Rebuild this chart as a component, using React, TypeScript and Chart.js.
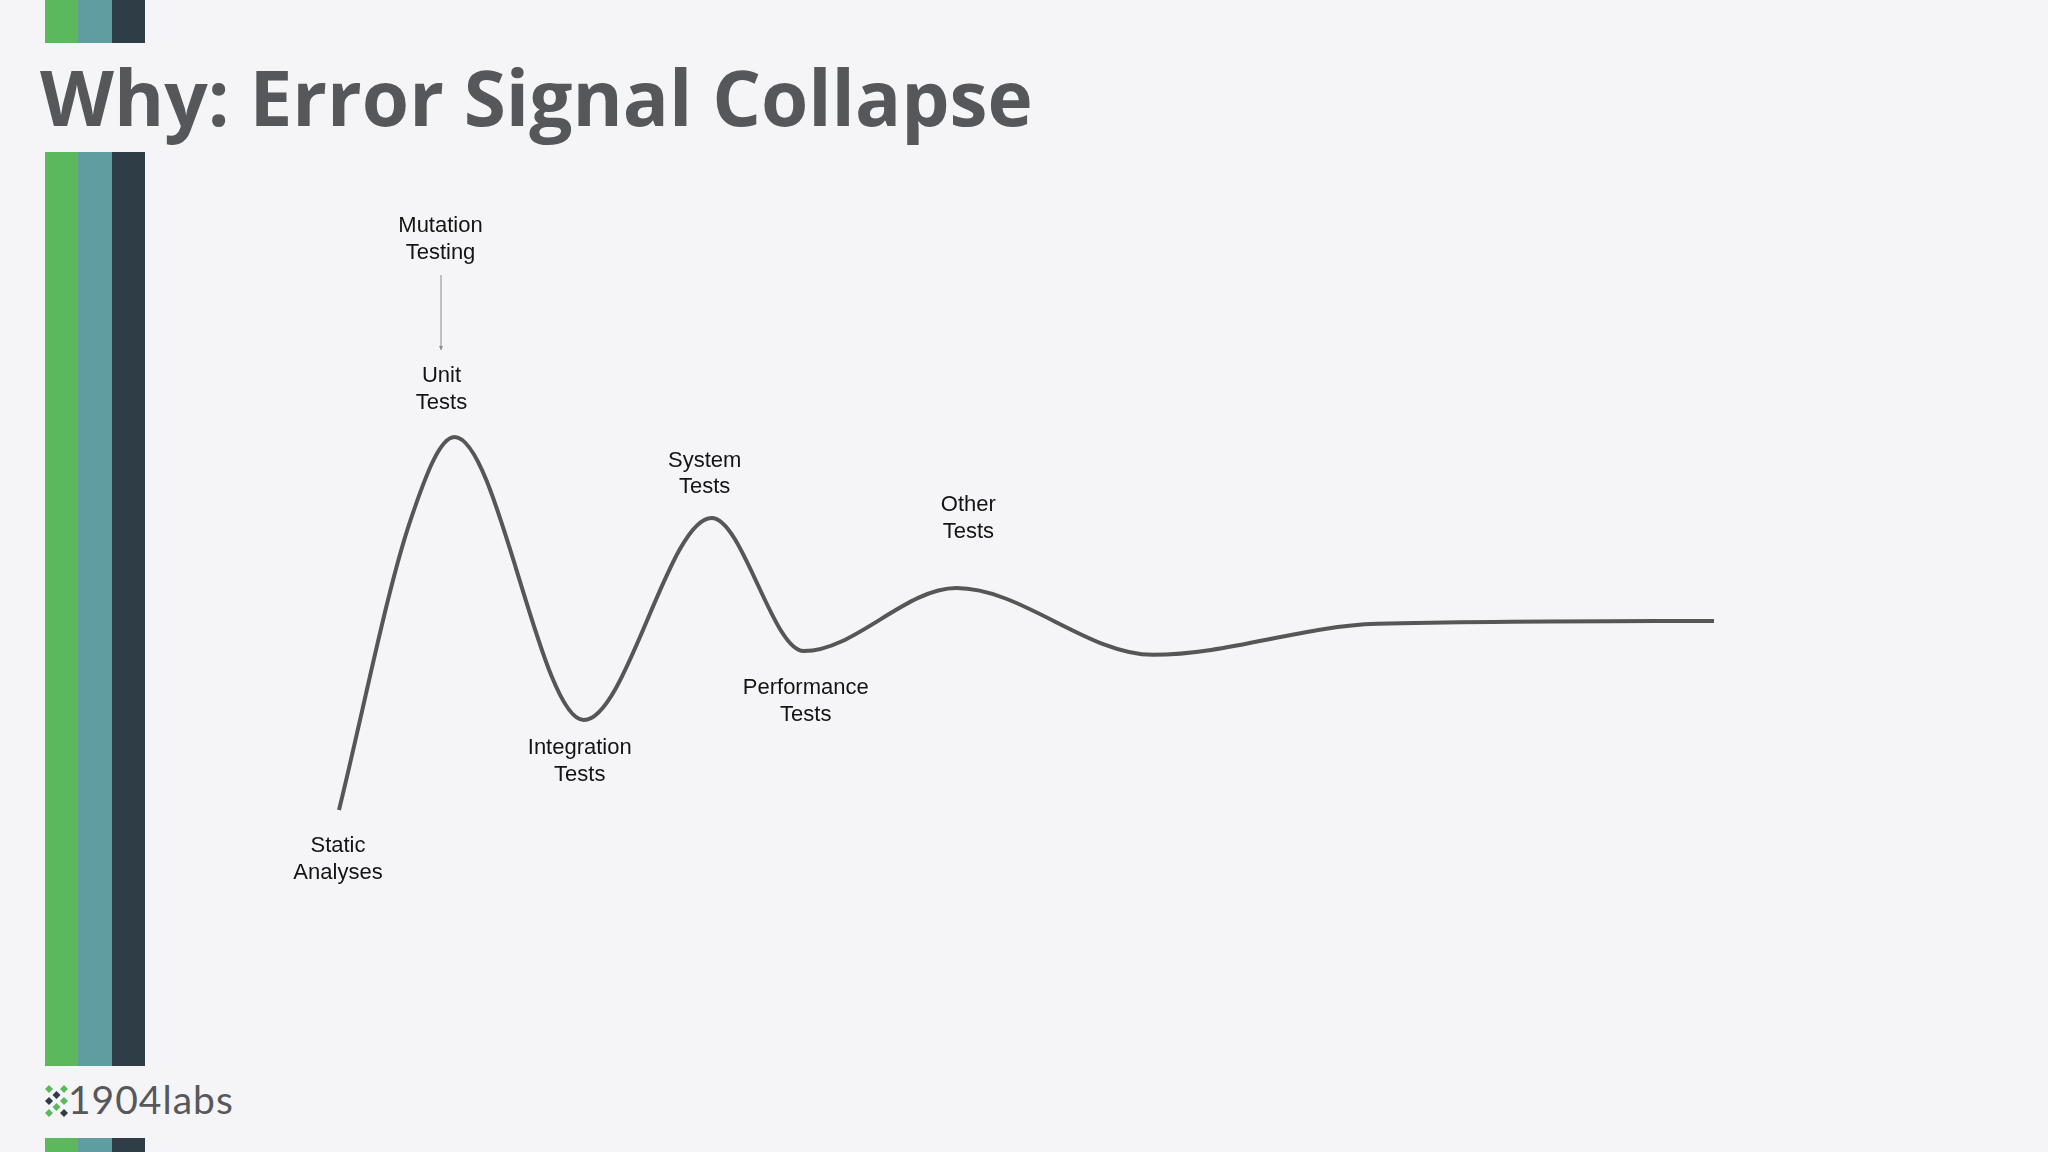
import React, { useEffect, useRef } from "react";
import { Chart, registerables } from "chart.js";

Chart.register(...registerables);

// ---- Data ----
const stageX = [0, 5.2, 8.4, 17.8, 27.1, 33.8, 44.9, 59.2, 75.5, 100];
const signalY = [0, 77.7, 100, 24.1, 78.3, 42.6, 59.5, 41.6, 49.9, 50.7];
const stageLabels = [
  "Static\nAnalyses",
  "",
  "Unit\nTests",
  "Integration\nTests",
  "System\nTests",
  "Performance\nTests",
  "Other\nTests",
  "",
  "",
  "",
];
const calloutLabel = "Mutation\nTesting";
const calloutTarget = 2;
const titleText = "Why: Error Signal Collapse";
const logoText = "1904labs";

// ---- Styles ----
const W = 2048;
const H = 1152;
const labelOffsets: Record<number, { dx: number; dy: number }> = {
  0: { dx: -1, dy: 42 },
  2: { dx: -13, dy: -55 },
  3: { dx: -4, dy: 34 },
  4: { dx: -7, dy: -51 },
  5: { dx: 2, dy: 43 },
  6: { dx: 12, dy: -77 },
};
const calloutStyle = { dx: -14, dy: -205, arrowFrom: -162, arrowTo: -87 };
const LINE_H = 26.5;
const GREEN = "#5cb85c";
const TEAL = "#5f9ea0";
const DARK = "#2f3d47";

export default function App() {
  const ref = useRef<HTMLCanvasElement | null>(null);

  useEffect(() => {
    document.body.style.margin = "0";
    const canvas = ref.current;
    if (!canvas) return;

    const labelPlugin = {
      id: "stageLabels",
      afterDatasetsDraw(chart: any) {
        const ctx = chart.ctx as CanvasRenderingContext2D;
        const meta = chart.getDatasetMeta(0);
        ctx.save();
        ctx.fillStyle = "#141414";
        ctx.font = '22px "Liberation Sans", Arial, sans-serif';
        ctx.textAlign = "center";
        ctx.textBaseline = "alphabetic";
        stageLabels.forEach((lab, i) => {
          if (!lab) return;
          const off = labelOffsets[i];
          const pt = meta.data[i];
          if (!off || !pt) return;
          lab.split("\n").forEach((line, k) => {
            ctx.fillText(line, pt.x + off.dx, pt.y + off.dy + k * LINE_H);
          });
        });
        // callout
        const tp = meta.data[calloutTarget];
        if (tp) {
          const cx = tp.x + calloutStyle.dx;
          calloutLabel.split("\n").forEach((line, k) => {
            ctx.fillText(line, cx, tp.y + calloutStyle.dy + k * LINE_H);
          });
          const ax = cx + 0.5;
          const y1 = tp.y + calloutStyle.arrowFrom;
          const y2 = tp.y + calloutStyle.arrowTo;
          ctx.strokeStyle = "#8a8a8a";
          ctx.lineWidth = 1;
          ctx.beginPath();
          ctx.moveTo(ax, y1);
          ctx.lineTo(ax, y2);
          ctx.stroke();
          ctx.fillStyle = "#8a8a8a";
          ctx.beginPath();
          ctx.moveTo(ax - 2, y2 - 4);
          ctx.lineTo(ax + 2, y2 - 4);
          ctx.lineTo(ax, y2);
          ctx.closePath();
          ctx.fill();
        }
        ctx.restore();
      },
    };

    const chart = new Chart(canvas, {
      type: "line",
      data: {
        datasets: [
          {
            data: stageX.map((x, i) => ({ x, y: signalY[i] })),
            borderColor: "#565656",
            borderWidth: 4,
            pointRadius: 0,
            fill: false,
            cubicInterpolationMode: "monotone",
            clip: false,
            borderCapStyle: "butt",
          } as any,
        ],
      },
      options: {
        animation: false,
        responsive: false,
        events: [],
        layout: { padding: { left: 339, right: W - 1714, top: 437, bottom: H - 810 } },
        scales: {
          x: { type: "linear", display: false, min: 0, max: 100 },
          y: { type: "linear", display: false, min: 0, max: 100 },
        },
        plugins: { legend: { display: false }, tooltip: { enabled: false }, title: { display: false } },
      },
      plugins: [labelPlugin],
    });
    return () => chart.destroy();
  }, []);

  const stripe = (top: number, height: number) => (
    <div style={{ position: "absolute", left: 45, top, height, width: 100, display: "flex" }}>
      <div style={{ flex: 1, background: GREEN }} />
      <div style={{ flex: 1, background: TEAL }} />
      <div style={{ flex: 1, background: DARK }} />
    </div>
  );

  const diamonds: [number, number, string][] = [
    [0, 0, GREEN],
    [2, 0, GREEN],
    [1, 1, DARK],
    [0, 2, DARK],
    [2, 2, GREEN],
    [1, 3, GREEN],
    [0, 4, GREEN],
    [2, 4, DARK],
  ];

  return (
    <div
      style={{
        position: "fixed",
        left: 0,
        top: 0,
        width: W,
        height: H,
        background: "#f5f5f7",
        overflow: "hidden",
      }}
    >
      {stripe(0, 43)}
      {stripe(152, 914)}
      {stripe(1138, 20)}
      <div
        style={{
          position: "absolute",
          left: 40,
          top: 58,
          fontFamily: '"Open Sans", sans-serif',
          fontWeight: 700,
          fontSize: 76.5,
          lineHeight: "77px",
          color: "#55575a",
          whiteSpace: "nowrap",
        }}
      >
        {titleText}
      </div>
      <svg
        style={{ position: "absolute", left: 45, top: 1085 }}
        width={24}
        height={32}
        viewBox="0 0 24 32"
      >
        {diamonds.map(([c, r, col], i) => {
          const cx = 4 + c * 7.5;
          const cy = 4 + r * 6;
          return (
            <polygon
              key={i}
              points={`${cx},${cy - 4} ${cx + 4},${cy} ${cx},${cy + 4} ${cx - 4},${cy}`}
              fill={col}
            />
          );
        })}
      </svg>
      <div
        style={{
          position: "absolute",
          left: 68,
          top: 1080,
          fontFamily: "Lato, sans-serif",
          fontWeight: 400,
          fontSize: 39,
          lineHeight: "39px",
          letterSpacing: 1,
          color: "#56585b",
          whiteSpace: "nowrap",
        }}
      >
        {logoText}
      </div>
      <canvas
        ref={ref}
        width={W}
        height={H}
        style={{ position: "absolute", left: 0, top: 0, width: W, height: H, display: "block" }}
      />
    </div>
  );
}
